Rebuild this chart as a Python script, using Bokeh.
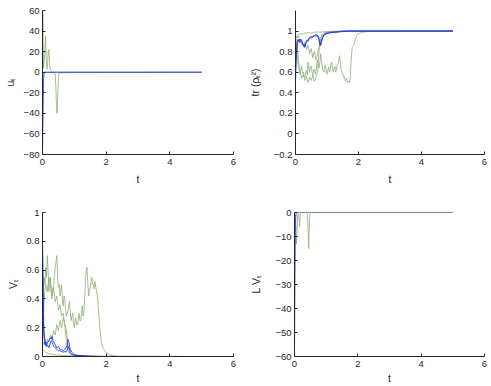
from bokeh.plotting import figure
from bokeh.layouts import column, row
from bokeh.models import FixedTicker
from bokeh.embed import file_html
from bokeh.resources import INLINE

# ---------------- data ----------------
x_ticks = [0, 2, 4, 6]
x_tick_labels = ["0", "2", "4", "6"]

u_ticks = [-80, -60, -40, -20, 0, 20, 40, 60]
u_tick_labels = ["\u221280", "\u221260", "\u221240", "\u221220", "0", "20", "40", "60"]
tr_ticks = [-0.2, 0, 0.2, 0.4, 0.6, 0.8, 1]
tr_tick_labels = ["\u22120.2", "0", "0.2", "0.4", "0.6", "0.8", "1"]
v_ticks = [0, 0.2, 0.4, 0.6, 0.8, 1]
v_tick_labels = ["0", "0.2", "0.4", "0.6", "0.8", "1"]
lv_ticks = [-60, -50, -40, -30, -20, -10, 0]
lv_tick_labels = ["\u221260", "\u221250", "\u221240", "\u221230", "\u221220", "\u221210", "0"]

# control u_t
u_blue_t = [0, 0.015, 0.03, 0.05, 5]
u_blue = [-77, -45, -10, 0, 0]
u_green1_t = [0, 0.01, 0.02, 0.035, 0.05, 0.07, 0.09, 0.1, 0.12, 0.14, 0.16, 0.18, 0.2, 0.22, 0.25, 0.28, 0.32, 5]
u_green1 = [0, 57, 30, 4, 10, 18, 33, 35, 12, 3, 8, 20, 22, 9, 2, 0.5, 0, 0]
u_green2_t = [0, 0.36, 0.4, 0.42, 0.44, 0.46, 0.48, 0.5, 0.53, 5]
u_green2 = [0, -0.5, -2, -15, -35, -40, -20, -4, -0.5, 0]

# blue trajectories (purity and Lyapunov value)
tb = [0, 0.02, 0.04, 0.06, 0.08, 0.1, 0.13, 0.16, 0.2, 0.24, 0.28, 0.3, 0.33, 0.36,
      0.4, 0.45, 0.5, 0.55, 0.6, 0.65, 0.7, 0.74, 0.78, 0.8, 0.83, 0.87, 0.92, 0.97,
      1.05, 1.15, 1.3, 1.5, 1.8, 5]
tr_blue1 = [0.52, 0.7, 0.82, 0.88, 0.9, 0.91, 0.89, 0.92, 0.9, 0.87, 0.84, 0.86, 0.88, 0.9,
            0.92, 0.93, 0.95, 0.94, 0.96, 0.95, 0.96, 0.94, 0.88, 0.86, 0.9, 0.94, 0.97, 0.97,
            0.98, 0.985, 0.99, 0.995, 1.0, 1.0]
tr_blue2 = [0.6, 0.75, 0.85, 0.9, 0.92, 0.9, 0.92, 0.9, 0.88, 0.86, 0.87, 0.85, 0.89, 0.91,
            0.9, 0.94, 0.93, 0.95, 0.95, 0.97, 0.95, 0.92, 0.86, 0.88, 0.92, 0.95, 0.96, 0.98,
            0.98, 0.99, 0.99, 1.0, 1.0, 1.0]
v_blue1 = [0.8, 0.45, 0.2, 0.14, 0.12, 0.09, 0.07, 0.08, 0.06, 0.09, 0.11, 0.1, 0.08, 0.07,
           0.06, 0.05, 0.04, 0.04, 0.035, 0.03, 0.035, 0.03, 0.05, 0.07, 0.06, 0.03, 0.015, 0.01,
           0.008, 0.005, 0.003, 0.001, 0, 0]
v_blue2 = [0.75, 0.4, 0.16, 0.1, 0.08, 0.1, 0.08, 0.1, 0.11, 0.13, 0.12, 0.14, 0.11, 0.1,
           0.08, 0.06, 0.07, 0.05, 0.05, 0.04, 0.05, 0.06, 0.08, 0.12, 0.1, 0.05, 0.03, 0.02,
           0.01, 0.008, 0.005, 0.002, 0, 0]

# green trajectories
t1 = [0, 0.05, 0.1, 0.15, 0.2, 0.3, 0.4, 0.5, 0.6, 0.8, 1.0, 1.3, 5]
tr_g1 = [0.96, 0.94, 0.97, 0.975, 0.97, 0.98, 0.985, 0.98, 0.99, 0.99, 0.995, 1.0, 1.0]
v_g1 = [0.05, 0.04, 0.03, 0.025, 0.02, 0.015, 0.012, 0.01, 0.008, 0.005, 0.003, 0.001, 0]

t2 = [0, 0.05, 0.1, 0.15, 0.2, 0.25, 0.3, 0.35, 0.4, 0.45, 0.5, 0.55, 0.6, 0.65, 0.7,
      0.75, 0.8, 0.85, 0.9, 0.95, 1.0, 1.2, 1.5, 5]
tr_g2 = [0.95, 0.85, 0.7, 0.6, 0.54, 0.58, 0.52, 0.56, 0.5, 0.55, 0.52, 0.57, 0.51, 0.55, 0.6,
         0.82, 0.93, 0.96, 0.97, 0.98, 0.985, 0.99, 1.0, 1.0]
v_g2 = [0.1, 0.4, 0.5, 0.45, 0.55, 0.5, 0.42, 0.48, 0.38, 0.42, 0.32, 0.36, 0.28, 0.3, 0.22,
        0.1, 0.04, 0.02, 0.015, 0.01, 0.008, 0.004, 0.0, 0.0]

t3 = [0, 0.025, 0.05, 0.075, 0.1, 0.125, 0.15, 0.175,
      0.2, 0.225, 0.25, 0.275, 0.3, 0.325, 0.35, 0.375,
      0.4, 0.425, 0.45, 0.475, 0.5, 0.525, 0.55, 0.575,
      0.6, 0.625, 0.65, 0.675, 0.7, 0.725, 0.75, 0.775,
      0.8, 0.825, 0.85, 0.875, 0.9, 0.925, 0.95, 0.975,
      1.0, 1.025, 1.05, 1.075, 1.1, 1.125, 1.15, 1.175,
      1.2, 1.225, 1.25, 1.275, 1.3, 1.325, 1.35, 1.375,
      1.4, 1.425, 1.45, 1.475, 1.5, 1.525, 1.55, 1.575,
      1.6, 1.625, 1.65, 1.675, 1.7, 1.725, 1.75, 1.775,
      1.8, 1.85, 1.9, 1.95, 2.0, 2.05, 2.1, 2.15, 2.2, 2.25, 2.3, 2.35, 2.4, 5]
tr_g3 = [0.93, 0.85, 0.78, 0.7, 0.64, 0.6, 0.58, 0.63,
         0.66, 0.59, 0.6, 0.56, 0.55, 0.6, 0.62, 0.57,
         0.7, 0.64, 0.6, 0.66, 0.66, 0.6, 0.57, 0.62,
         0.63, 0.58, 0.6, 0.67, 0.72, 0.65, 0.64, 0.7,
         0.78, 0.7, 0.66, 0.61, 0.6, 0.65, 0.67, 0.6,
         0.58, 0.62, 0.65, 0.6, 0.62, 0.68, 0.7, 0.63,
         0.6, 0.64, 0.66, 0.6, 0.62, 0.67, 0.68, 0.72,
         0.76, 0.68, 0.63, 0.6, 0.58, 0.55, 0.56, 0.52,
         0.52, 0.54, 0.5, 0.51, 0.51, 0.5, 0.62, 0.75,
         0.84, 0.86, 0.92, 0.96, 0.975, 0.98, 0.985, 0.99, 0.99, 0.995, 0.995, 1.0, 1.0, 1.0]
v_g3 = [0.3, 0.45, 0.55, 0.5, 0.62, 0.55, 0.7, 0.6,
        0.45, 0.5, 0.55, 0.45, 0.4, 0.48, 0.5, 0.56,
        0.62, 0.66, 0.7, 0.55, 0.48, 0.5, 0.42, 0.46,
        0.5, 0.4, 0.35, 0.42, 0.4, 0.32, 0.28, 0.3,
        0.32, 0.36, 0.38, 0.3, 0.25, 0.28, 0.3, 0.24,
        0.2, 0.25, 0.27, 0.22, 0.22, 0.26, 0.3, 0.25,
        0.25, 0.3, 0.35, 0.28, 0.3, 0.4, 0.55, 0.6,
        0.62, 0.5, 0.42, 0.46, 0.48, 0.52, 0.55, 0.5,
        0.5, 0.47, 0.52, 0.48, 0.45, 0.42, 0.35, 0.28,
        0.2, 0.1, 0.06, 0.04, 0.03, 0.02, 0.015, 0.01, 0.006, 0.004, 0.002, 0.001, 0, 0]

t4 = [0, 0.05, 0.1, 0.15, 0.2, 0.25, 0.3, 0.35, 0.4, 0.45, 0.5, 0.55, 0.6, 0.65, 0.7, 0.75,
      0.8, 0.85, 0.9, 1.0, 1.2, 5]
tr_g4 = [0.96, 0.93, 0.95, 0.9, 0.92, 0.86, 0.89, 0.82, 0.86, 0.78, 0.83, 0.74, 0.8, 0.72, 0.78, 0.85,
         0.93, 0.97, 0.98, 0.99, 0.995, 1.0]
v_g4 = [0.08, 0.1, 0.07, 0.12, 0.1, 0.15, 0.12, 0.18, 0.15, 0.22, 0.18, 0.25, 0.2, 0.27, 0.22, 0.18,
        0.08, 0.03, 0.015, 0.01, 0.003, 0]

# L V_t
lv_blue_t = [0, 0.015, 0.03, 0.05, 5]
lv_blue = [-56, -25, -4, 0, 0]
lv_green1_t = [0, 0.02, 0.04, 0.06, 0.08, 0.1, 0.12, 0.14, 0.16, 0.18, 0.21, 5]
lv_green1 = [-3, -1, -4, -13, -8, -1, -0.5, -2, -6, -1, 0, 0]
lv_green2_t = [0, 0.38, 0.41, 0.43, 0.45, 0.47, 0.5, 5]
lv_green2 = [0, 0, -1, -8, -15, -4, 0, 0]

# ---------------- styling ----------------
FONT = "Liberation Sans"
BLUE = "#1a35f0"
GREEN = "#8aaa6e"
AXIS = "#262626"


def overrides(ticks, labels):
    d = {}
    for t, l in zip(ticks, labels):
        d[t] = l
    return d


def make_fig(width, height, mbl, mbr, mbt, mbb, y_range, yticks, ylabels, ylabel,
             y_label_standoff, x_label_standoff):
    p = figure(width=width, height=height, x_range=(0, 6), y_range=y_range,
               output_backend="svg", toolbar_location=None,
               min_border_left=mbl, min_border_right=mbr,
               min_border_top=mbt, min_border_bottom=mbb)
    p.xgrid.visible = False
    p.ygrid.visible = False
    p.outline_line_color = None
    p.background_fill_color = "white"
    p.border_fill_color = "white"
    for ax in (p.xaxis[0], p.yaxis[0]):
        ax.axis_line_color = AXIS
        ax.major_tick_line_color = AXIS
        ax.major_tick_in = 3
        ax.major_tick_out = 0
        ax.minor_tick_line_color = None
        ax.major_label_text_font = FONT
        ax.major_label_text_font_size = "9.5px"
        ax.major_label_text_color = AXIS
        ax.axis_label_text_font = FONT
        ax.axis_label_text_font_size = "10.5px"
        ax.axis_label_text_font_style = "normal"
        ax.axis_label_text_color = AXIS
    p.xaxis.ticker = FixedTicker(ticks=x_ticks)
    p.xaxis.major_label_overrides = overrides(x_ticks, x_tick_labels)
    p.xaxis.major_label_standoff = 4
    p.xaxis.axis_label = "t"
    p.xaxis.axis_label_standoff = x_label_standoff
    p.yaxis.ticker = FixedTicker(ticks=yticks)
    p.yaxis.major_label_overrides = overrides(yticks, ylabels)
    p.yaxis.major_label_standoff = 3
    p.yaxis.axis_label = ylabel
    p.yaxis.axis_label_standoff = y_label_standoff
    return p


def green(p, t, v):
    p.line(t, v, line_color=GREEN, line_width=1, line_alpha=0.75)


def blue(p, t, v):
    p.line(t, v, line_color=BLUE, line_width=1, line_alpha=0.85)


p1 = make_fig(245, 190, 42, 12, 10, 36, (-80, 60), u_ticks, u_tick_labels, "u\u209c", 4, 5)
green(p1, u_green1_t, u_green1)
green(p1, u_green2_t, u_green2)
blue(p1, u_blue_t, u_blue)

p2 = make_fig(245, 190, 49, 6, 10, 36, (-0.2, 1.2), tr_ticks, tr_tick_labels,
              "tr (\u03c1\u209c\u00b2)", 10, 5)
green(p2, t1, tr_g1)
green(p2, t2, tr_g2)
green(p2, t3, tr_g3)
green(p2, t4, tr_g4)
blue(p2, tb, tr_blue1)
blue(p2, tb, tr_blue2)

p3 = make_fig(245, 196, 42, 12, 22, 29, (0, 1), v_ticks, v_tick_labels, "V\u209c", 4, 2)
green(p3, t1, v_g1)
green(p3, t2, v_g2)
green(p3, t3, v_g3)
green(p3, t4, v_g4)
blue(p3, tb, v_blue1)
blue(p3, tb, v_blue2)

p4 = make_fig(245, 196, 49, 6, 22, 29, (-60, 0), lv_ticks, lv_tick_labels, "L V\u209c", 10, 2)
green(p4, lv_green1_t, lv_green1)
green(p4, lv_green2_t, lv_green2)
blue(p4, lv_blue_t, lv_blue)

layout = column(row(p1, p2), row(p3, p4))

open("out.html", "w").write(file_html(layout, INLINE))
